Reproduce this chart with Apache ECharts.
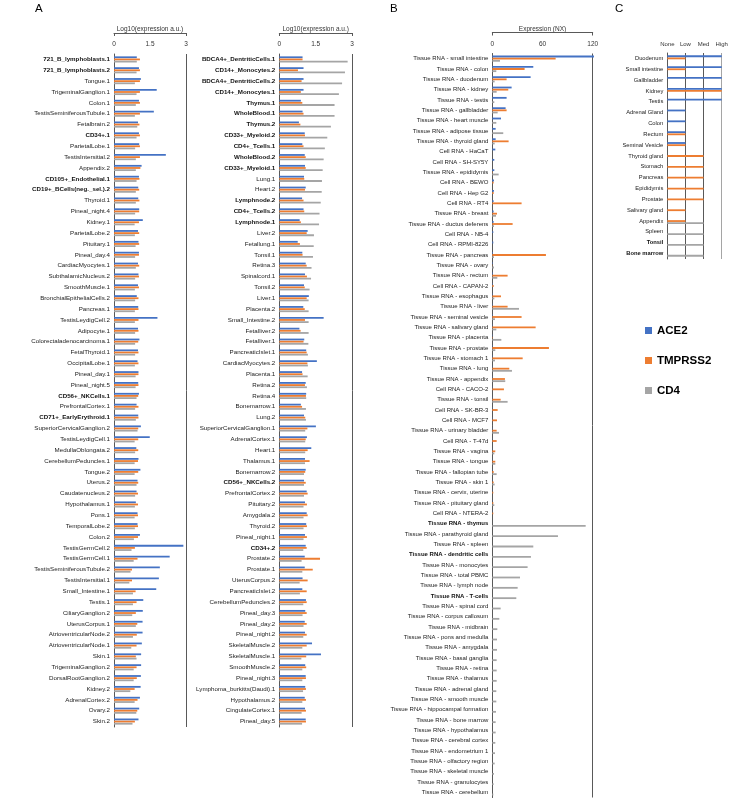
<!DOCTYPE html>
<html><head><meta charset="utf-8">
<script src="https://cdn.jsdelivr.net/npm/echarts@6/dist/echarts.min.js"></script>
<style>html,body{margin:0;padding:0;background:#fff}#c{width:756px;height:799px}</style>
</head><body><div id="c"></div>
<script>
const catA1 = ['721_B_lymphoblasts.1','721_B_lymphoblasts.2','Tongue.1','TrigeminalGanglion.1','Colon.1','TestisSeminiferousTubule.1','Fetalbrain.2','CD34+.1','ParietalLobe.1','TestisIntersitial.2','Appendix.2','CD105+_Endothelial.1','CD19+_BCells(neg._sel.).2','Thyroid.1','Pineal_night.4','Kidney.1','ParietalLobe.2','Pituitary.1','Pineal_day.4','CardiacMyocytes.1','SubthalamicNucleus.2','SmoothMuscle.1','BronchialEpithelialCells.2','Pancreas.1','TestisLeydigCell.2','Adipocyte.1','Colorectaladenocarcinoma.1','FetalThyroid.1','OccipitalLobe.1','Pineal_day.1','Pineal_night.5','CD56+_NKCells.1','PrefrontalCortex.1','CD71+_EarlyErythroid.1','SuperiorCervicalGanglion.2','TestisLeydigCell.1','MedullaOblongata.2','CerebellumPeduncles.1','Tongue.2','Uterus.2','Caudatenucleus.2','Hypothalamus.1','Pons.1','TemporalLobe.2','Colon.2','TestisGermCell.2','TestisGermCell.1','TestisSeminiferousTubule.2','TestisIntersitial.1','Small_Intestine.1','Testis.1','CiliaryGanglion.2','UterusCorpus.1','AtrioventricularNode.2','AtrioventricularNode.1','Skin.1','TrigeminalGanglion.2','DorsalRootGanglion.2','Kidney.2','AdrenalCortex.2','Ovary.2','Skin.2'];
const ace2A1 = [0.95,1.04,1.12,1.78,1.04,1.66,1.0,1.04,1.05,2.16,1.15,1.04,1.01,1.01,1.05,1.2,1.0,1.02,1.04,1.0,1.02,1.0,0.95,1.01,1.81,1.0,1.06,1.0,0.98,1.02,1.01,1.04,0.94,1.01,1.12,1.49,0.93,1.02,1.1,0.98,0.94,0.91,0.98,0.98,1.08,2.89,2.32,1.91,1.87,1.76,1.22,1.2,1.19,1.19,1.16,1.13,1.13,1.12,1.11,1.08,1.05,1.02];
const tmprssA1 = [1.08,1.08,1.08,1.08,1.08,1.08,1.06,1.08,1.08,1.08,1.1,1.06,1.05,1.06,1.05,1.04,1.05,1.05,1.04,1.05,1.04,1.04,1.02,1.02,1.02,1.02,1.01,1.02,1.02,1.02,1.02,1.01,1.02,1.02,1.01,1.01,1.01,1.0,1.01,1.01,1.0,1.0,1.0,1.0,1.0,0.87,0.98,0.75,0.75,0.9,0.94,0.91,0.97,0.95,0.94,0.91,0.94,0.95,0.86,0.98,0.97,0.87];
const cd4A1 = [0.95,0.94,0.87,0.94,0.91,0.87,0.97,0.94,0.88,0.91,0.91,0.94,0.91,0.91,0.88,0.86,0.87,0.9,0.88,0.91,0.88,0.87,0.88,0.87,0.87,0.88,0.88,0.88,0.87,0.9,0.9,0.94,0.88,0.91,0.98,0.86,0.88,0.86,0.86,0.94,0.88,0.87,0.86,0.87,0.83,0.73,0.82,0.69,0.64,0.79,0.79,0.76,0.91,0.79,0.72,0.94,0.82,0.82,0.68,0.86,0.93,0.77];
const boldA1 = ['721_B_lymphoblasts.1','721_B_lymphoblasts.2','CD34+.1','CD105+_Endothelial.1','CD19+_BCells(neg._sel.).2','CD56+_NKCells.1','CD71+_EarlyErythroid.1'];

const catA2 = ['BDCA4+_DentriticCells.1','CD14+_Monocytes.2','BDCA4+_DentriticCells.2','CD14+_Monocytes.1','Thymus.1','WholeBlood.1','Thymus.2','CD33+_Myeloid.2','CD4+_Tcells.1','WholeBlood.2','CD33+_Myeloid.1','Lung.1','Heart.2','Lymphnode.2','CD4+_Tcells.2','Lymphnode.1','Liver.2','Fetallung.1','Tonsil.1','Retina.3','Spinalcord.1','Tonsil.2','Liver.1','Placenta.2','Small_Intestine.2','Fetalliver.2','Fetalliver.1','PancreaticIslet.1','CardiacMyocytes.2','Placenta.1','Retina.2','Retina.4','Bonemarrow.1','Lung.2','SuperiorCervicalGanglion.1','AdrenalCortex.1','Heart.1','Thalamus.1','Bonemarrow.2','CD56+_NKCells.2','PrefrontalCortex.2','Pituitary.2','Amygdala.2','Thyroid.2','Pineal_night.1','CD34+.2','Prostate.2','Prostate.1','UterusCorpus.2','PancreaticIslet.2','CerebellumPeduncles.2','Pineal_day.3','Pineal_day.2','Pineal_night.2','SkeletalMuscle.2','SkeletalMuscle.1','SmoothMuscle.2','Pineal_night.3','Lymphoma_burkitts(Daudi).1','Hypothalamus.2','CingulateCortex.1','Pineal_day.5'];
const ace2A2 = [0.96,1.0,1.0,1.0,0.89,0.96,0.81,1.05,0.95,1.05,1.06,1.02,1.09,0.94,1.0,0.84,1.17,0.76,0.95,1.09,1.06,1.02,1.22,0.99,1.83,0.83,1.03,1.11,1.55,0.94,1.09,1.11,0.89,1.02,1.51,1.14,1.32,1.06,1.09,1.02,1.13,1.06,1.13,1.11,1.06,1.09,1.05,1.05,0.96,0.95,1.1,1.07,1.05,1.06,1.35,1.72,1.07,1.09,1.07,1.05,1.06,1.09];
const tmprssA2 = [0.96,0.77,0.92,0.89,0.95,1.0,0.87,1.06,1.0,1.09,1.09,1.03,1.06,1.0,1.03,0.89,1.13,0.85,0.96,1.13,1.14,1.05,1.13,1.05,1.06,0.88,1.0,1.13,1.16,0.96,1.06,1.1,0.94,1.07,1.16,1.09,1.17,1.25,1.07,1.09,1.17,1.14,1.17,1.14,1.14,1.13,1.68,1.38,1.17,1.13,1.13,1.13,1.13,1.13,1.13,1.11,1.11,1.1,1.1,1.1,1.1,1.1];
const cd4A2 = [2.82,2.71,2.59,2.46,2.28,2.28,2.13,1.98,1.88,1.83,1.79,1.76,1.75,1.71,1.66,1.64,1.43,1.42,1.39,1.33,1.31,1.25,1.21,1.21,1.21,1.21,1.2,1.18,1.18,1.17,1.14,1.11,1.1,1.1,1.07,1.07,1.07,1.06,1.02,1.02,1.02,1.0,1.0,1.0,1.0,0.99,0.92,0.95,0.84,0.85,0.99,0.96,1.0,0.99,0.95,0.91,0.95,0.95,0.98,0.95,0.92,0.94];
const boldA2 = ['BDCA4+_DentriticCells.1','CD14+_Monocytes.2','BDCA4+_DentriticCells.2','CD14+_Monocytes.1','Thymus.1','WholeBlood.1','Thymus.2','CD33+_Myeloid.2','CD4+_Tcells.1','WholeBlood.2','CD33+_Myeloid.1','Lymphnode.2','CD4+_Tcells.2','Lymphnode.1','CD56+_NKCells.2','CD34+.2'];

const catB = ['Tissue RNA - small intestine','Tissue RNA - colon','Tissue RNA - duodenum','Tissue RNA - kidney','Tissue RNA - testis','Tissue RNA - gallbladder','Tissue RNA - heart muscle','Tissue RNA - adipose tissue','Tissue RNA - thyroid gland','Cell RNA - HaCaT','Cell RNA - SH-SY5Y','Tissue RNA - epididymis','Cell RNA - BEWO','Cell RNA - Hep G2','Cell RNA - RT4','Tissue RNA - breast','Tissue RNA - ductus deferens','Cell RNA - NB-4','Cell RNA - RPMI-8226','Tissue RNA - pancreas','Tissue RNA - ovary','Tissue RNA - rectum','Cell RNA - CAPAN-2','Tissue RNA - esophagus','Tissue RNA - liver','Tissue RNA - seminal vesicle','Tissue RNA - salivary gland','Tissue RNA - placenta','Tissue RNA - prostate','Tissue RNA - stomach 1','Tissue RNA - lung','Tissue RNA - appendix','Cell RNA - CACO-2','Tissue RNA - tonsil','Cell RNA - SK-BR-3','Cell RNA - MCF7','Tissue RNA - urinary bladder','Cell RNA - T-47d','Tissue RNA - vagina','Tissue RNA - tongue','Tissue RNA - fallopian tube','Tissue RNA - skin 1','Tissue RNA - cervix, uterine','Tissue RNA - pituitary gland','Cell RNA - NTERA-2','Tissue RNA - thymus','Tissue RNA - parathyroid gland','Tissue RNA - spleen','Tissue RNA - dendritic cells','Tissue RNA - monocytes','Tissue RNA - total PBMC','Tissue RNA - lymph node','Tissue RNA - T-cells','Tissue RNA - spinal cord','Tissue RNA - corpus callosum','Tissue RNA - midbrain','Tissue RNA - pons and medulla','Tissue RNA - amygdala','Tissue RNA - basal ganglia','Tissue RNA - retina','Tissue RNA - thalamus','Tissue RNA - adrenal gland','Tissue RNA - smooth muscle','Tissue RNA - hippocampal formation','Tissue RNA - bone marrow','Tissue RNA - hypothalamus','Tissue RNA - cerebral cortex','Tissue RNA - endometrium 1','Tissue RNA - olfactory region','Tissue RNA - skeletal muscle','Tissue RNA - granulocytes','Tissue RNA - cerebellum'];
const ace2B = [121.5,49,45.8,23.1,17.1,15.9,10.4,4,4,3.6,2.4,2.4,2,2,1.6,1.6,1.6,1.2,1.2,0.8,0.6,0.8,0.5,0.5,0.5,0.5,0.4,0.4,0.4,0.4,0.3,0.3,0.3,0.3,0.3,0.3,0.3,0.2,0.2,0.2,0.2,0.2,0.2,0.2,0.2,0,0,0,0,0,0,0,0,0,0,0,0,0,0,0,0,0,0,0,0,0,0,0,0,0,0,0];
const tmprssB = [75.7,38.6,17.1,19.1,0,17.1,0,0,19.5,0,0,0.5,1.6,1.6,35,5.6,24.3,0,0,64.1,0.3,18.3,1.6,10.4,18.3,35,51.8,0.5,67.7,36.3,20.3,15.1,13.9,10,6.4,5.6,5.2,5.2,3.6,3.6,1.6,1.6,1.2,1.2,1.2,0,0,0,0,0,0,0,0,0,0,0,0,0,0,0,0,0,0,0,0,0,0,0,0,0,0,0];
const cd4B = [9.2,4.8,2.8,5.2,2.4,6.4,4.8,13.1,2.8,0,0,7.6,0,0,0,4.4,2,0,0,2,2,6,0,2.4,31.9,3.2,4.8,10.8,3.6,3.2,23.5,15.5,0,18.3,0,0,8,0,2.4,3.6,5.2,2.8,0,2.4,0,111.6,78.5,49,46.2,42.2,33.1,30.3,28.7,10,8.4,6,5.6,5.6,5.2,5.2,5.2,4.8,4.8,4.4,4,4,3.6,3.2,2.8,2,1.6,1.2];
const boldB = ['Tissue RNA - thymus','Tissue RNA - dendritic cells','Tissue RNA - T-cells'];

const catC = ['Duodenum','Small intestine','Gallbladder','Kidney','Testis','Adrenal Gland','Colon','Rectum','Seminal Vesicle','Thyroid gland','Stomach','Pancreas','Epididymis','Prostate','Salivary gland','Appendix','Spleen','Tonsil','Bone marrow'];
const ace2C = [3,3,3,3,3,1,1,1,1,0,0,0,0,0,0,0,0,0,0];
const tmprssC = [1,1,0,3,0,0,0,1,1,2,2,2,2,2,1,1,0,0,0];
const cd4C = [0,0,0,0,0,0,0,0,0,0,0,0,0,0,0,2,2,2,2];
const boldC = ['Tonsil','Bone marrow'];
const levelsC = ['None','Low','Med','High'];

const seriesNames = ['ACE2','TMPRSS2','CD4'];
const colors = ['#4472C4','#ED7D31','#A5A5A5'];
const FONT = 'Liberation Sans, Arial, sans-serif';
const AX = '#595959';

function yAxisFor(idx, cats, bold, fs) {
  return {
    type: 'category', gridIndex: idx, data: cats, inverse: true,
    axisLine: {show: true, lineStyle: {color: AX, width: 1}},
    axisTick: {show: false},
    axisLabel: {
      interval: 0, fontSize: fs, color: '#222', margin: 4, fontFamily: FONT,
      formatter: v => bold.indexOf(v) >= 0 ? '{b|' + v + '}' : v,
      rich: {b: {fontWeight: 'bold', fontSize: fs, color: '#111', fontFamily: FONT}}
    },
    splitLine: {show: false}
  };
}
function xAxisTop(idx, max, interval, name) {
  return {
    type: 'value', gridIndex: idx, position: 'top', min: 0, max: max, interval: interval,
    offset: 21,
    name: name, nameLocation: 'middle', nameGap: 0, nameMoveOverlap: false,
    nameTextStyle: {fontSize: 6.5, color: '#333', fontFamily: FONT},
    axisLine: {show: true, lineStyle: {color: AX, width: 1}},
    axisTick: {show: true, inside: true, length: 3, customValues: [0, max], lineStyle: {color: AX}},
    axisLabel: {inside: true, fontSize: 6.5, color: '#333', margin: 8, fontFamily: FONT},
    splitLine: {show: true, lineStyle: {color: AX, width: 1}}
  };
}
function barSeries(idx, arrs) {
  return arrs.map((d, i) => ({
    name: seriesNames[i], type: 'bar', xAxisIndex: idx, yAxisIndex: idx,
    data: d, barWidth: 1.8, barGap: '20%', clip: false,
    itemStyle: {color: colors[i]}, silent: true, animation: false
  }));
}

const titleStyle = {fontSize: 11.5, fontWeight: 'normal', color: '#000', fontFamily: FONT};
const option = {
  animation: false,
  textStyle: {fontFamily: FONT},
  title: [
    {text: 'A', left: 35, top: 3, padding: 0, textStyle: titleStyle},
    {text: 'B', left: 390, top: 3, padding: 0, textStyle: titleStyle},
    {text: 'C', left: 615, top: 3, padding: 0, textStyle: titleStyle}
  ],
  legend: {
    data: seriesNames, orient: 'vertical', left: 640, top: 319,
    icon: 'rect', itemWidth: 7, itemHeight: 7, itemGap: 17,
    textStyle: {fontSize: 11.5, fontWeight: 'bold', color: '#000', lineHeight: 13, fontFamily: FONT},
    selectedMode: false
  },
  grid: [
    {left: 114, top: 54, width: 72, height: 673},
    {left: 279.3, top: 54, width: 72.7, height: 673},
    {left: 492.3, top: 53.5, width: 100.4, height: 744},
    {left: 667.3, top: 53, width: 54.4, height: 206}
  ],
  xAxis: [
    xAxisTop(0, 3, 1.5, 'Log10(expression a.u.)'),
    xAxisTop(1, 3, 1.5, 'Log10(expression a.u.)'),
    xAxisTop(2, 120, 60, 'Expression (NX)'),
    {
      type: 'value', gridIndex: 3, position: 'top', min: 0, max: 3, interval: 1,
      axisLine: {show: false}, axisTick: {show: false},
      axisLabel: {fontSize: 6, color: '#333', margin: 6, fontFamily: FONT, formatter: v => levelsC[v] || ''},
      splitLine: {show: true, lineStyle: {color: [AX, AX, AX, '#A5A5A5'], width: 1}}
    }
  ],
  yAxis: [
    yAxisFor(0, catA1, boldA1, 6.2),
    yAxisFor(1, catA2, boldA2, 6.2),
    yAxisFor(2, catB, boldB, 6),
    yAxisFor(3, catC, boldC, 5.8)
  ],
  series: [].concat(
    barSeries(0, [ace2A1, tmprssA1, cd4A1]),
    barSeries(1, [ace2A2, tmprssA2, cd4A2]),
    barSeries(2, [ace2B, tmprssB, cd4B]),
    barSeries(3, [ace2C, tmprssC, cd4C])
  )
};
const chart = echarts.init(document.getElementById('c'), null, {renderer: 'canvas'});
chart.setOption(option);
</script>
</body></html>
